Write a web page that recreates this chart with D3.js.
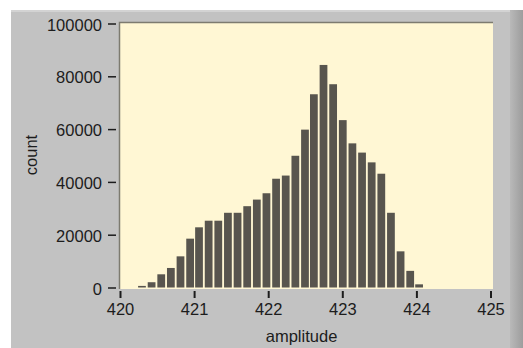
<!DOCTYPE html>
<html>
<head>
<meta charset="utf-8">
<script src="https://cdn.jsdelivr.net/npm/d3@7"></script>
<style>
  body { margin: 0; background: #fff; }
  svg { display: block; }
  .axis text { font-family: "Liberation Sans", Arial, sans-serif; font-size: 16.5px; fill: #1c1c1c; }
  .axis line { stroke: #1c1c1c; }
</style>
</head>
<body>
<div class="chart"></div>
<script>
// bin left edges (amplitude) and counts
var binStarts = [420.24, 420.37, 420.50, 420.63, 420.76, 420.89, 421.01, 421.14, 421.27, 421.40,
                 421.53, 421.66, 421.79, 421.92, 422.05, 422.18, 422.31, 422.44, 422.56, 422.69,
                 422.82, 422.95, 423.08, 423.21, 423.34, 423.47, 423.60, 423.73, 423.86, 423.98];
var binWidth = 0.129;
var counts = [600, 2000, 5000, 7400, 11800, 18500, 22800, 25300, 25300, 28300,
              28300, 30800, 33300, 35700, 41200, 42400, 49900, 59800, 73200, 84300,
              77000, 63400, 54600, 51100, 47400, 43100, 28300, 13700, 6300, 1200];
var xTicks = [420, 421, 422, 423, 424, 425];
var yTicks = [0, 20000, 40000, 60000, 80000, 100000];

var W = 523, H = 348;

var svg = d3.select("div.chart")
            .append("svg")
            .attr("width", W)
            .attr("height", H);

// grey panel
svg.append("rect")
   .attr("x", 11).attr("y", 10)
   .attr("width", W - 11).attr("height", H - 10)
   .attr("fill", "#c2c2c2");
svg.append("rect")
   .attr("x", 11).attr("y", 10)
   .attr("width", W - 11).attr("height", 2)
   .attr("fill", "#d3d3d3");

var grad = svg.append("defs").append("linearGradient")
              .attr("id", "edge").attr("x1", "0").attr("x2", "1");
grad.append("stop").attr("offset", "0").attr("stop-color", "#b9b9b9");
grad.append("stop").attr("offset", "1").attr("stop-color", "#9d9d9d");
svg.append("rect")
   .attr("x", 510).attr("y", 10)
   .attr("width", W - 510).attr("height", H - 10)
   .attr("fill", "url(#edge)");

var x = d3.scaleLinear()
          .domain([420, 425])
          .range([120, 490.5]);

var y = d3.scaleLinear()
          .domain([0, 100000])
          .range([287.5, 23.5]);

// plot area
svg.append("rect")
   .attr("x", 120).attr("y", 23)
   .attr("width", 373).attr("height", 266)
   .attr("fill", "#fff7d4");
svg.append("path")
   .attr("d", "M119.5,289V22.5H493")
   .attr("fill", "none")
   .attr("stroke", "#7d7b70")
   .attr("stroke-width", 1.5);

//bars
svg.selectAll(".bar")
   .data(binStarts)
   .enter()
   .append("rect")
   .attr("class", "bar")
   .attr("x", function(d){ return x(d) + 0.3; })
   .attr("width", function(d){ return x(d + binWidth) - x(d) - 1.8; })
   .attr("y", function(d, i){ return y(counts[i]); })
   .attr("height", function(d, i){ return y(0) - y(counts[i]); })
   .attr("fill", "#58554e");

//axes
var xAxis = svg.append("g")
   .attr("class", "axis")
   .attr("transform", "translate(0,291)")
   .call(d3.axisBottom(x).tickValues(xTicks).tickSize(7).tickPadding(5).tickFormat(d3.format("d")));
xAxis.select(".domain").remove();
xAxis.selectAll("line").attr("stroke-width", 2);

var yAxis = svg.append("g")
   .attr("class", "axis")
   .attr("transform", "translate(116,0)")
   .call(d3.axisLeft(y).tickValues(yTicks).tickSize(8).tickPadding(6).tickFormat(d3.format("d")));
yAxis.select(".domain").remove();
yAxis.selectAll("line").attr("stroke-width", 1.5);
yAxis.selectAll("text").attr("dy", "0.4em");

svg.append("text")
   .attr("class", "axis")
   .attr("x", x(422.45)).attr("y", 342)
   .attr("text-anchor", "middle")
   .style("font-family", "Liberation Sans, Arial, sans-serif")
   .style("font-size", "16.5px")
   .attr("fill", "#1c1c1c")
   .text("amplitude");

svg.append("text")
   .attr("transform", "translate(37,155) rotate(-90)")
   .attr("text-anchor", "middle")
   .style("font-family", "Liberation Sans, Arial, sans-serif")
   .style("font-size", "16.5px")
   .attr("fill", "#1c1c1c")
   .text("count");
</script>
</body>
</html>
